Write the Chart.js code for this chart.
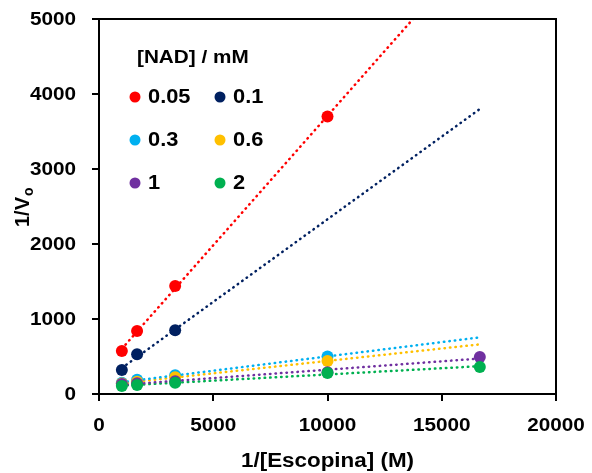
<!DOCTYPE html>
<html>
<head>
<meta charset="utf-8">
<script src="https://cdn.jsdelivr.net/npm/chart.js@4.4.0/dist/chart.umd.min.js"></script>
<style>
  html, body { margin: 0; padding: 0; background: #fff; }
  #wrap { width: 592px; height: 473px; position: relative; }
</style>
</head>
<body>
<div id="wrap"><canvas id="lineweaver"></canvas></div>
<script>
// 1/[Escopina] values (M^-1)
const invEscopina = [1000, 1667, 3333, 10000, 16667];

// 1/Vo for each NAD concentration (null = not measured)
const rateNad005 = [573, 840, 1440, 3700, null];
const rateNad01 = [320, 530, 850, null, null];
const rateNad03 = [150, 190, 250, 500, null];
const rateNad06 = [140, 165, 225, 440, null];
const rateNad1 = [135, 145, 170, 290, 493];
const rateNad2 = [107, 120, 150, 280, 360];

const nadLabels = ['0.05', '0.1', '0.3', '0.6', '1', '2'];
const nadColors = ['#FF0000', '#002060', '#00B0F0', '#FFC000', '#7030A0', '#00B050'];
const allRates = [rateNad005, rateNad01, rateNad03, rateNad06, rateNad1, rateNad2];

const xTicks = [0, 5000, 10000, 15000, 20000];
const yTicks = [0, 1000, 2000, 3000, 4000, 5000];
const trendFrom = 1000;
const trendTo = 16667;

const FONT = '"Liberation Sans", Arial, sans-serif';
const STRETCH = 1.12;

// least squares line through the measured points, drawn across the x range
function trendline(xs, ys) {
    const pts = xs.map((x, i) => [x, ys[i]]).filter(p => p[1] !== null);
    const n = pts.length;
    const mx = pts.reduce((s, p) => s + p[0], 0) / n;
    const my = pts.reduce((s, p) => s + p[1], 0) / n;
    let sxy = 0, sxx = 0;
    pts.forEach(p => {
        sxy += (p[0] - mx) * (p[1] - my);
        sxx += (p[0] - mx) * (p[0] - mx);
    });
    const m = sxy / sxx;
    const b = my - m * mx;
    return [{ x: trendFrom, y: m * trendFrom + b }, { x: trendTo, y: m * trendTo + b }];
}

// wide bold text, as in the original figure
function wideText(ctx, text, x, y, size, align) {
    ctx.save();
    ctx.font = 'bold ' + size + 'px ' + FONT;
    ctx.fillStyle = '#000';
    ctx.textBaseline = 'middle';
    const w = ctx.measureText(text).width * STRETCH;
    let left = x;
    if (align === 'center') left = x - w / 2;
    if (align === 'right') left = x - w;
    ctx.translate(left, y);
    ctx.scale(STRETCH, 1);
    ctx.textAlign = 'left';
    ctx.fillText(text, 0, 0);
    ctx.restore();
}

const datasets = [];
allRates.forEach((rates, i) => {
    datasets.push({
        label: nadLabels[i],
        data: invEscopina.map((x, j) => ({ x: x, y: rates[j] })).filter(p => p.y !== null),
        backgroundColor: nadColors[i],
        borderColor: nadColors[i],
        pointRadius: 6,
        pointHoverRadius: 6,
        pointBorderWidth: 0,
        showLine: false,
        order: 6 - i
    });
});
allRates.forEach((rates, i) => {
    datasets.push({
        label: nadLabels[i] + ' trend',
        data: trendline(invEscopina, rates),
        borderColor: nadColors[i],
        borderWidth: 2.5,
        borderDash: [0.5, 5],
        borderCapStyle: 'round',
        pointRadius: 0,
        showLine: true,
        fill: false,
        order: 20
    });
});

const chartDecor = {
    id: 'chartDecor',
    afterDraw(chart) {
        const ctx = chart.ctx;
        const a = chart.chartArea;
        const xs = chart.scales.x;
        const ys = chart.scales.y;

        // box around the plot
        ctx.save();
        ctx.strokeStyle = '#000';
        ctx.lineWidth = 2;
        ctx.strokeRect(a.left, a.top, a.right - a.left, a.bottom - a.top);
        ctx.restore();

        // tick labels
        xTicks.forEach(v => wideText(ctx, String(v), xs.getPixelForValue(v), 426, 18.5, 'center'));
        yTicks.forEach(v => wideText(ctx, String(v), 76, ys.getPixelForValue(v) + 1, 18.5, 'right'));

        // axis titles
        wideText(ctx, '1/[Escopina] (M)', (a.left + a.right) / 2, 461, 20, 'center');
        ctx.save();
        ctx.translate(23, 227);
        ctx.rotate(-Math.PI / 2);
        ctx.fillStyle = '#000';
        ctx.textBaseline = 'middle';
        ctx.font = 'bold 20px ' + FONT;
        ctx.fillText('1/V', 0, 0);
        const vw = ctx.measureText('1/V').width;
        ctx.font = 'bold 14px ' + FONT;
        ctx.fillText('o', vw + 1, 6);
        ctx.restore();

        // legend
        wideText(ctx, '[NAD] / mM', 137, 58, 18.5, 'left');
        const colX = [135, 220];
        const rowY = [97, 140, 183];
        nadLabels.forEach((lab, i) => {
            const cx = colX[i % 2];
            const cy = rowY[Math.floor(i / 2)];
            ctx.save();
            ctx.fillStyle = nadColors[i];
            ctx.beginPath();
            ctx.arc(cx, cy, 5.5, 0, Math.PI * 2);
            ctx.fill();
            ctx.restore();
            wideText(ctx, lab, cx + 13, cy + 1, 19.5, 'left');
        });
    }
};

const ctx = document.getElementById('lineweaver').getContext('2d');
new Chart(ctx, {
    type: 'scatter',
    data: { datasets: datasets },
    options: {
        responsive: true,
        maintainAspectRatio: false,
        animation: false,
        layout: { padding: { top: 19, right: 36, left: 0, bottom: 0 } },
        plugins: {
            legend: { display: false },
            tooltip: { enabled: false }
        },
        scales: {
            x: {
                type: 'linear',
                min: 0,
                max: 20000,
                afterBuildTicks: s => { s.ticks = xTicks.map(v => ({ value: v })); },
                afterFit: s => { s.height = 79; },
                ticks: { display: false },
                grid: { drawOnChartArea: false, drawTicks: true, tickLength: 7, color: '#000', lineWidth: 2 },
                border: { display: true, color: '#000', width: 2 }
            },
            y: {
                type: 'linear',
                min: 0,
                max: 5000,
                afterBuildTicks: s => { s.ticks = yTicks.map(v => ({ value: v })); },
                afterFit: s => { s.width = 99; },
                ticks: { display: false },
                grid: { drawOnChartArea: false, drawTicks: true, tickLength: 7, color: '#000', lineWidth: 2 },
                border: { display: true, color: '#000', width: 2 }
            }
        }
    },
    plugins: [chartDecor]
});
</script>
</body>
</html>
